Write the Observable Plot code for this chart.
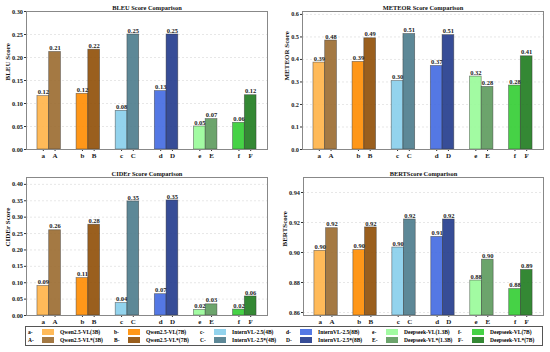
<!DOCTYPE html>
<html>
<head>
<meta charset="utf-8">
<script src="https://cdn.jsdelivr.net/npm/d3@7"></script>
<script src="https://cdn.jsdelivr.net/npm/@observablehq/plot@0.6"></script>
<style>
  html, body { margin: 0; padding: 0; background: #fff; }
  #root { position: relative; width: 550px; height: 352px; background: #fff; font-family: "Liberation Serif", "DejaVu Serif", serif; }
  .panel { position: absolute; }
  .legend { position: absolute; left: 25px; top: 326px; width: 516px; height: 18px; border: 1px solid #555; display: flex; font-weight: bold; font-size: 5.5px; color: #000; }
  .col { width: 86px; padding-left: 2px; display: flex; flex-direction: column; justify-content: center; gap: 2.5px; }
  .item { display: flex; align-items: center; height: 6px; }
  .key { width: 14px; }
  .sw { width: 12px; height: 6px; margin-right: 6px; }
</style>
</head>
<body>
<div id="root"></div>
<script>
// ---- data ----
const groups = ["a", "b", "c", "d", "e", "f"];
const starKeys = ["A", "B", "C", "D", "E", "F"];
const baseModels = ["Qwen2.5-VL(3B)", "Qwen2.5-VL(7B)", "InternVL-2.5(4B)", "InternVL-2.5(8B)", "Deepseek-VL(1.3B)", "Deepseek-VL(7B)"];
const starModels = ["Qwen2.5-VL*(3B)", "Qwen2.5-VL*(7B)", "InternVL-2.5*(4B)", "InternVL-2.5*(8B)", "Deepseek-VL*(1.3B)", "Deepseek-VL*(7B)"];
const baseColors = ["#FFB347", "#FF8C00", "#87CEEB", "#4169E1", "#98FB98", "#32CD32"];
const starColors = ["#9A6A2F", "#8F4E05", "#4B7B8C", "#213A8C", "#5C9A5C", "#1E7B1E"];

const bleuBase = [0.116, 0.121, 0.084, 0.127, 0.050, 0.058];
const bleuStar = [0.212, 0.217, 0.250, 0.250, 0.066, 0.118];
const meteorBase = [0.386, 0.389, 0.304, 0.371, 0.324, 0.284];
const meteorStar = [0.484, 0.494, 0.513, 0.508, 0.278, 0.414];
const ciderBase = [0.090, 0.114, 0.038, 0.065, 0.017, 0.018];
const ciderStar = [0.260, 0.277, 0.348, 0.351, 0.034, 0.058];
const bertBase = [0.9011, 0.9016, 0.9033, 0.9104, 0.8813, 0.8756];
const bertStar = [0.9162, 0.9167, 0.9220, 0.9220, 0.8952, 0.8884];

const bleuTicks = [0, 0.05, 0.10, 0.15, 0.20, 0.25, 0.30];
const meteorTicks = [0, 0.1, 0.2, 0.3, 0.4, 0.5, 0.6];
const ciderTicks = [0, 0.05, 0.10, 0.15, 0.20, 0.25, 0.30, 0.35, 0.40];
const bertTicks = [0.86, 0.88, 0.90, 0.92, 0.94];

const barWidth = 0.3;
const FONT = '"Liberation Serif", "DejaVu Serif", serif';

function rowsFor(base, star) {
  const rows = [];
  groups.forEach((g, i) => {
    rows.push({key: g, value: base[i], color: baseColors[i], x1: i - barWidth, x2: i, pos: i - barWidth / 2});
    rows.push({key: starKeys[i], value: star[i], color: starColors[i], x1: i, x2: i + barWidth, pos: i + barWidth / 2});
  });
  return rows;
}

function panel({title, ylabel, base, star, domain, ticks, fmt, left, top, height, mt, mb, ml, mr, labelDx}) {
  const rows = rowsFor(base, star);
  const keyByPos = new Map(rows.map(d => [d.pos, d.key]));
  const chart = Plot.plot({
    width: 275,
    height,
    marginTop: mt,
    marginBottom: mb,
    marginLeft: ml,
    marginRight: mr,
    style: {fontFamily: FONT, background: "transparent", overflow: "visible"},
    x: {domain: [-0.58, 5.58], axis: null},
    y: {domain, axis: null},
    marks: [
      Plot.gridY(ticks, {stroke: "#bbb", strokeOpacity: 0.6, strokeDasharray: "2,2", strokeWidth: 0.6}),
      Plot.rectY(rows, {x1: "x1", x2: "x2", y1: domain[0], y2: "value", fill: "color", fillOpacity: 0.9, stroke: "#333", strokeOpacity: 0.6, strokeWidth: 0.7}),
      Plot.text(rows, {x: "pos", y: "value", text: d => d.value.toFixed(2), dy: -4, fontSize: 6.5, fontWeight: "bold", fill: "#222"}),
      Plot.axisX(rows.map(d => d.pos), {tickFormat: d => keyByPos.get(d), tickSize: 2, tickPadding: 1.5, fontSize: 7, fontWeight: "bold", stroke: "#333", fill: "#222", label: null}),
      Plot.axisY(ticks, {tickFormat: d3.format(fmt), tickSize: 2, tickPadding: 1.5, fontSize: 6.3, fontWeight: "bold", stroke: "#333", fill: "#222", label: null}),
      Plot.frame({stroke: "#888", strokeWidth: 1}),
      Plot.text([title], {frameAnchor: "top", dy: -6, text: d => d, fontSize: 6.4, fontWeight: "bold", fill: "#111"}),
      Plot.text([ylabel], {frameAnchor: "left", rotate: -90, dx: labelDx, text: d => d, fontSize: 7, fontWeight: "bold", fill: "#111"})
    ]
  });
  const div = document.createElement("div");
  div.className = "panel";
  div.style.left = left + "px";
  div.style.top = top + "px";
  div.appendChild(chart);
  return div;
}

const root = document.getElementById("root");
root.appendChild(panel({title: "BLEU Score Comparison", ylabel: "BLEU Score", base: bleuBase, star: bleuStar, domain: [0, 0.30], ticks: bleuTicks, fmt: ".2f", left: 0, top: 0, height: 165, mt: 11, mb: 16, ml: 26, mr: 8, labelDx: -19}));
root.appendChild(panel({title: "METEOR Score Comparison", ylabel: "METEOR Score", base: meteorBase, star: meteorStar, domain: [0, 0.613], ticks: meteorTicks, fmt: ".1f", left: 275, top: 0, height: 165, mt: 11, mb: 16, ml: 27, mr: 7, labelDx: -15.5}));
root.appendChild(panel({title: "CIDEr Score Comparison", ylabel: "CIDEr Score", base: ciderBase, star: ciderStar, domain: [0, 0.421], ticks: ciderTicks, fmt: ".2f", left: 0, top: 165, height: 161, mt: 12, mb: 11, ml: 26, mr: 8, labelDx: -19}));
root.appendChild(panel({title: "BERTScore Comparison", ylabel: "BERTScore", base: bertBase, star: bertStar, domain: [0.858, 0.95], ticks: bertTicks, fmt: ".2f", left: 275, top: 165, height: 161, mt: 12, mb: 11, ml: 28, mr: 7, labelDx: -19}));

// ---- legend ----
const legend = document.createElement("div");
legend.className = "legend";
groups.forEach((g, i) => {
  const col = document.createElement("div");
  col.className = "col";
  [[g, baseColors[i], baseModels[i]], [starKeys[i], starColors[i], starModels[i]]].forEach(([k, c, m]) => {
    const item = document.createElement("div");
    item.className = "item";
    item.innerHTML = `<span class="key">${k}-</span><span class="sw" style="background:${c};opacity:0.9"></span><span>${m}</span>`;
    col.appendChild(item);
  });
  legend.appendChild(col);
});
root.appendChild(legend);
</script>
</body>
</html>
